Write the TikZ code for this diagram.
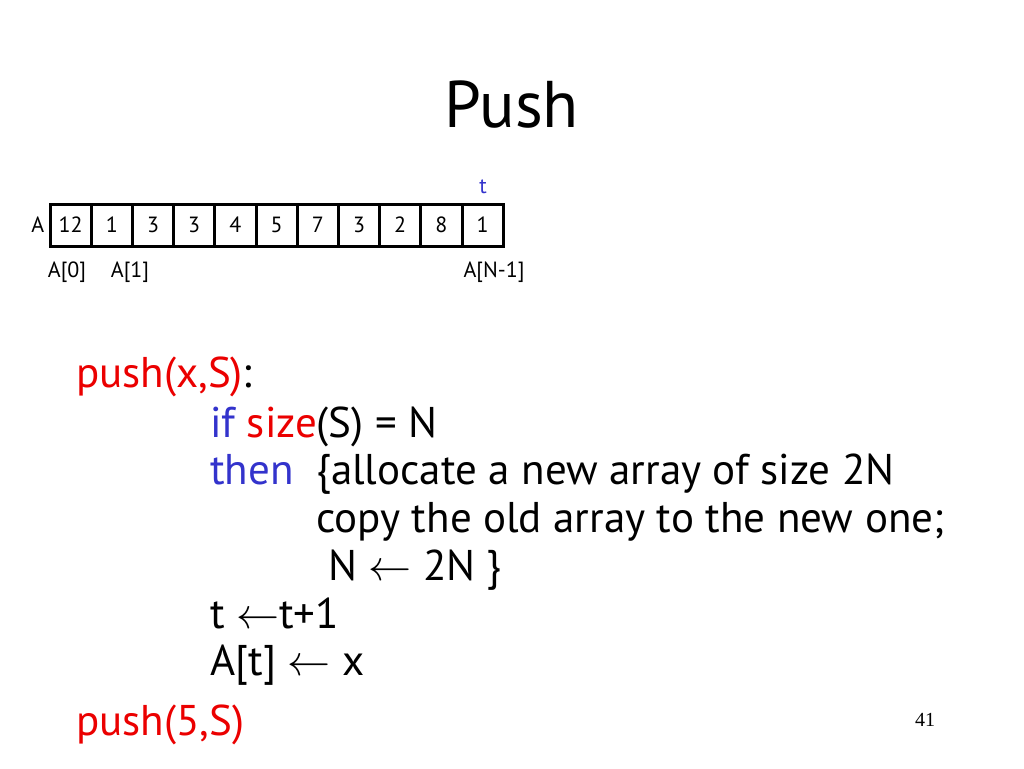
\RequirePackage{fix-cm}
\documentclass[tikz,border=0pt]{standalone}
\usepackage{fontspec}
\setmainfont{PT Sans}
\newfontfamily\numfont{Liberation Serif}
\newcommand{\larr}{$\leftarrow$}
\definecolor{cred}{RGB}{235,0,0}
\definecolor{cblue}{RGB}{51,51,204}
\begin{document}
\begin{tikzpicture}[x=1pt,y=-1pt,
  cell/.style={draw, line width=3pt, minimum width=41.2pt, minimum height=42pt, inner sep=0pt, font=\fontsize{22}{26}\selectfont},
  lbl/.style={inner sep=0pt, font=\fontsize{22}{26}\selectfont},
  code/.style={anchor=base west, inner sep=0pt, font=\fontsize{43}{48}\selectfont}]
\useasboundingbox[fill=white] (0,0) rectangle (1024,768);
\node[inner sep=0pt, font=\fontsize{66}{74}\selectfont] (title) at (512,105) {Push};
\foreach \v [count=\i from 0] in {12,1,3,3,4,5,7,3,2,8,1}
  \node[cell] (c\i) at (70.6+41.2*\i,225) {\v};
\node[lbl, anchor=east] (alab) at ([xshift=-4pt]c0.west) {A};
\node[lbl] (a0) at (67,272) {A[0]};
\node[lbl] (a1) at (130,272) {A[1]};
\node[lbl] (an) at (494,272) {A[N-1]};
\node[lbl, text=cblue] (tt) at (483,187) {t};
\node[code] (l1) at (76,387) {\textcolor{cred}{push(x,S)}:};
\node[code] (l2) at (210,437) {\textcolor{cblue}{if} \textcolor{cred}{size}(S) = N};
\node[code] (l3a) at (210,484) {\textcolor{cblue}{then}};
\node[code] (l3b) at (316,484) {\{allocate a new array of size 2N};
\node[code] (l4) at (316,532) {copy the old array to the new one;};
\node[code] (l5) at (328,580) {N \larr{} 2N \}};
\node[code] (l6) at (210,628) {t \larr t+1};
\node[code] (l7) at (210,675) {A[t] \larr{} x};
\node[code, text=cred] (l8) at (76,735) {push(5,S)};
\node[anchor=base west, inner sep=0pt, font=\numfont\fontsize{20}{24}\selectfont] (pg) at (915,726) {41};
\end{tikzpicture}
\end{document}
